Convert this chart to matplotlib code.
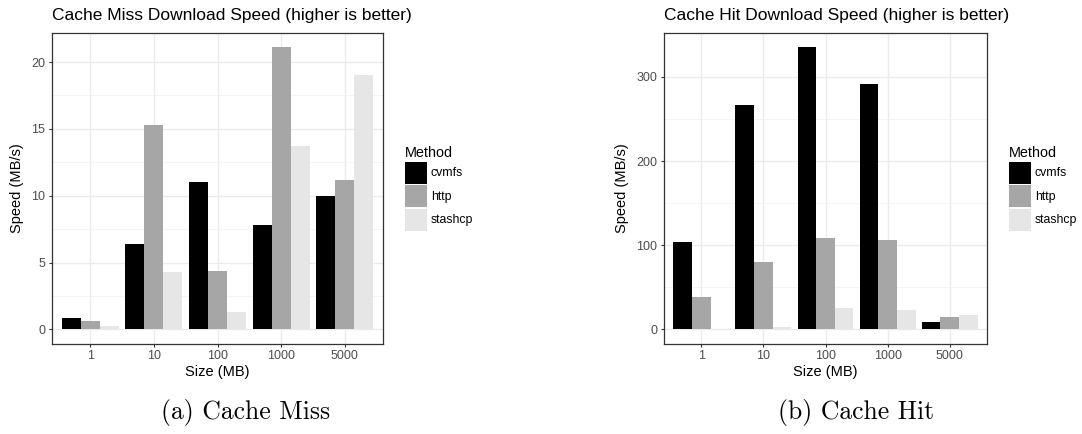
import matplotlib
matplotlib.use("Agg")
import matplotlib.pyplot as plt
from matplotlib.patches import Patch
import numpy as np

plt.rcParams["font.family"] = ["Liberation Sans", "DejaVu Sans"]

# data
sizes = ["1", "10", "100", "1000", "5000"]
methods = ["cvmfs", "http", "stashcp"]
colors = ["#000000", "#A6A6A6", "#E6E6E6"]

miss_cvmfs = [0.85, 6.4, 11.05, 7.8, 10.0]
miss_http = [0.6, 15.3, 4.35, 21.15, 11.2]
miss_stashcp = [0.25, 4.3, 1.3, 13.75, 19.0]

hit_cvmfs = [104, 267, 336, 292, 8.7]
hit_http = [38.9, 80, 108.7, 106.3, 14.7]
hit_stashcp = [0.3, 2.8, 25.4, 23, 17]

W, H = 1082, 434
fig = plt.figure(figsize=(W / 100, H / 100), dpi=100)


def px(x0, y0, w, h):
    # pixel box (top-left origin) -> figure fraction
    return [x0 / W, 1 - (y0 + h) / H, w / W, h / H]


def panel(rect, series, title, major, minor, legend_xy):
    ax = fig.add_axes(rect)
    x = np.arange(len(sizes))
    bw = 0.3
    for i, (vals, c) in enumerate(zip(series, colors)):
        ax.bar(x + (i - 1) * bw, vals, width=bw, color=c, linewidth=0, zorder=2)

    top = max(max(s) for s in series)
    ax.set_ylim(-0.05 * top, 1.05 * top)
    ax.set_xlim(-0.6, len(sizes) - 0.4)

    ax.set_xticks(x)
    ax.set_xticklabels(sizes)
    ax.set_yticks(major)
    ax.set_yticks(minor, minor=True)
    ax.set_xticks([], minor=True)

    ax.grid(True, which="major", color="#EBEBEB", linewidth=1.0, zorder=0)
    ax.grid(True, which="minor", axis="y", color="#F2F2F2", linewidth=0.6, zorder=0)
    ax.set_axisbelow(True)

    for s in ax.spines.values():
        s.set_color("#333333")
        s.set_linewidth(0.9)
    ax.tick_params(which="major", length=2.4, width=0.8, color="#333333",
                   labelcolor="#4D4D4D", labelsize=9, pad=2.5)
    ax.tick_params(which="minor", length=0)

    ax.set_xlabel("Size (MB)", fontsize=10.5, labelpad=2)
    ax.set_ylabel("Speed (MB/s)", fontsize=10.5, labelpad=5)
    ax.set_title(title, loc="left", fontsize=12.5, pad=9)

    handles = [Patch(facecolor=c, edgecolor="none") for c in colors]
    fig.legend(handles, methods, loc="upper left",
               bbox_to_anchor=(legend_xy[0] / W, 1 - legend_xy[1] / H),
               frameon=False, title="Method", title_fontsize=10.4,
               fontsize=8.8, borderaxespad=0, borderpad=0,
               handlelength=1.8, handleheight=2.39, labelspacing=0.13,
               handletextpad=0.3, alignment="left")
    return ax


panel(px(52, 32.5, 331, 311), [miss_cvmfs, miss_http, miss_stashcp],
      "Cache Miss Download Speed (higher is better)",
      [0, 5, 10, 15, 20], [2.5, 7.5, 12.5, 17.5], (405, 146))

panel(px(664, 32.5, 323, 311), [hit_cvmfs, hit_http, hit_stashcp],
      "Cache Hit Download Speed (higher is better)",
      [0, 100, 200, 300], [50, 150, 250], (1009, 146))

fig.text(246 / W, 1 - 412 / H, "(a) Cache Miss", ha="center", va="center",
         family="cmr10", fontsize=18.5)
fig.text(856 / W, 1 - 412 / H, "(b) Cache Hit", ha="center", va="center",
         family="cmr10", fontsize=18.5)

fig.savefig("out.png", dpi=100)
